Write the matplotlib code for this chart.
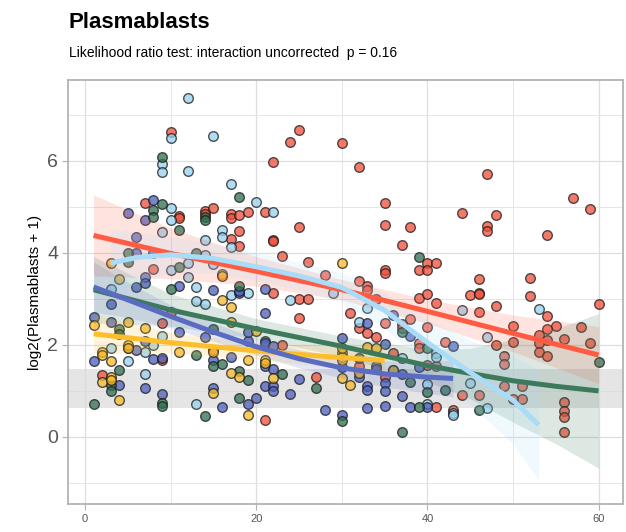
import matplotlib
matplotlib.use("Agg")
import matplotlib.pyplot as plt
import numpy as np
from matplotlib.ticker import MultipleLocator

plt.rcParams['font.family'] = ['Liberation Sans', 'DejaVu Sans']

# ---------------- data ----------------
red_x = [30,32,35,35,38,37,35,35,39,40,40,41,32,33,33,39,40,45,46,46,47,44,48,47,47,54,57,59,46,52,52,
         10,25,24,22,7,11,11,14,14,15,17,17,18,19,21,18,17,18,22,22,25,23,26,8,22,25,26,25,28,23,27,21,15,9,9,2,10,
         31,34,35,38,32,33,34,37,37,40,39,39,42,46,36,40,41,32,35,44,46,41,43,41,
         48,60,54,50,55,54,58,53,53,54,56,59,50,48,53,54,49,49,49,51,50,51,56,56,56,56]
red_y = [6.39,5.87,5.09,4.61,4.57,4.17,3.63,3.56,3.63,3.78,3.63,3.78,3.39,3.28,3.20,3.02,3.11,3.09,3.13,3.10,5.72,4.87,4.83,4.59,4.48,4.39,5.20,4.96,3.43,3.46,3.07,
         6.63,6.67,6.41,5.98,5.09,4.80,4.76,4.91,4.85,4.98,4.85,4.76,4.83,4.89,4.89,4.48,4.30,4.15,4.28,4.25,4.57,3.93,3.80,3.65,3.13,3.00,3.00,2.59,3.52,2.00,1.30,0.37,1.89,2.48,1.67,1.35,2.72,
         2.70,3.00,2.48,2.57,2.37,2.26,2.17,2.46,2.37,2.39,2.04,1.93,2.07,2.72,1.83,1.57,1.54,1.54,1.30,0.91,0.91,0.65,0.59,2.91,
         2.85,2.89,2.63,2.41,2.41,2.35,2.39,2.22,2.04,2.11,2.13,2.04,2.07,2.00,1.85,1.76,1.76,1.59,1.11,1.11,0.83,0.83,0.76,0.57,0.43,0.11]

lblue_x = [12,10,15,9,9,12,10,10,9,14,14,12,17,20,22,16,16,17,10,12,13,3,15,19,17,13,14,9,3,5,7,7,8,13,
           24,29,33,32,44,47,41,41,37,40,40,43,43,45,53,47]
lblue_y = [7.37,6.50,6.55,5.93,5.76,5.78,4.98,4.72,4.46,4.28,3.96,3.78,5.50,5.11,4.89,4.50,4.35,4.13,3.63,3.48,3.26,3.22,3.76,3.13,3.09,2.96,2.89,2.20,1.93,1.65,1.37,1.85,2.00,0.72,
           2.98,3.13,2.80,2.50,2.76,2.17,1.83,1.74,1.72,1.15,0.72,0.52,0.48,1.17,2.78,0.63]

dblue_x = [5,8,7,6,6,8,7,7,6,11,15,18,18,21,3,1,3,7,8,6,1,4,7,9,9,11,14,21,19,19,21,21,22,17,15,15,21,22,21,22,22,24,20,19,16,25,28,
           30,30,36,33,38,35,43,32,34,34,36,37,39,32,33,33,35,35,37,33,35,38,40,30]
dblue_y = [4.87,5.15,4.72,4.35,4.00,4.00,3.48,3.35,3.26,3.28,3.20,3.13,3.18,3.22,2.89,2.61,2.50,2.09,1.70,1.89,1.65,1.13,1.07,1.72,0.93,2.28,2.17,2.70,2.09,2.28,2.09,2.05,1.98,1.74,1.67,1.07,1.54,1.48,1.11,1.11,1.00,0.93,0.85,0.72,0.65,1.26,0.59,
           2.15,0.48,2.65,2.48,2.20,2.02,1.98,1.72,1.54,1.48,1.46,1.37,1.52,1.30,1.11,1.02,1.17,1.00,0.89,0.63,0.67,0.65,0.65,1.52]

green_x = [9,9,8,8,11,18,14,14,13,11,10,18,4,4,5,4,3,3,1,9,9,13,14,15,16,15,18,19,23,27,18,30,37,40,38,40,42,39,46,37,60,39,5,5]
green_y = [6.08,5.07,4.93,4.78,4.50,5.22,4.78,4.72,4.00,3.70,3.22,3.28,2.35,2.24,1.93,1.46,1.13,1.00,0.72,0.74,0.68,1.78,0.46,2.35,1.59,1.54,1.43,1.24,1.37,1.07,0.85,0.35,2.28,1.93,1.20,0.98,1.02,0.65,0.59,0.11,1.63,3.91,4.00,3.80]

yellow_x = [3,4,16,16,16,17,17,1,5,7,2,2,3,4,2,3,3,5,5,11,15,17,18,19,19,21,21,22,20,15,30,30,30,30,31,33,34,32,36,30,30]
yellow_y = [3.78,3.43,3.54,3.50,2.98,2.83,2.50,2.43,2.50,2.37,1.85,1.78,1.65,0.80,1.20,1.30,1.24,2.00,1.93,1.85,0.96,1.39,1.30,1.67,0.48,1.67,1.61,1.28,2.30,1.85,3.78,1.83,1.74,1.28,1.13,1.96,1.93,1.39,1.46,1.93,1.67]

# smooth fits: x grid, fit, half-width of CI
red_fx = [1,10,20,30,40,50,60]
red_fy = [4.38,3.99,3.60,3.20,2.73,2.25,1.78]
red_fw = [0.88,0.55,0.32,0.22,0.26,0.40,0.62]

lblue_fx = [3,6,10,15,20,25,30,35,40,45,50,53]
lblue_fy = [3.78,3.90,3.96,3.88,3.70,3.50,3.25,2.75,2.05,1.40,0.80,0.26]
lblue_fw = [0.75,0.55,0.40,0.32,0.30,0.30,0.32,0.38,0.50,0.70,0.95,1.20]

dblue_fx = [1,5,10,15,20,25,30,35,40,43]
dblue_fy = [3.26,2.98,2.62,2.28,1.96,1.70,1.50,1.37,1.30,1.27]
dblue_fw = [0.55,0.38,0.25,0.20,0.18,0.20,0.22,0.28,0.35,0.40]

green_fx = [1,10,20,30,40,45,50,55,60]
green_fy = [3.20,2.76,2.35,1.97,1.55,1.38,1.22,1.10,1.00]
green_fw = [0.72,0.35,0.22,0.22,0.35,0.55,0.90,1.25,1.68]

yellow_fx = [1,10,20,28,35]
yellow_fy = [2.24,2.05,1.87,1.75,1.66]
yellow_fw = [0.42,0.22,0.18,0.22,0.32]

band_lo, band_hi = 0.63, 1.48

title = "Plasmablasts"
subtitle = "Likelihood ratio test: interaction uncorrected  p = 0.16"
ylabel = "log2(Plasmablasts + 1)"

# ---------------- styling ----------------
pt_fill = {"red": "#F04E3A", "lblue": "#96D2F0", "dblue": "#4A5EBD", "green": "#2E6F4E", "yellow": "#F8B928"}
ln_col = {"red": "#FF5A42", "lblue": "#A8DCF8", "dblue": "#5A6CC2", "green": "#3C7A5B", "yellow": "#FDBE2E"}

fig = plt.figure(figsize=(6.26, 5.32), dpi=100)
ax = fig.add_axes([0.1086, 0.0526, 0.8866, 0.797])

ax.set_xlim(-1.99, 62.85)
ax.set_ylim(-1.46, 7.76)

ax.axhspan(band_lo, band_hi, color="#dadada", alpha=0.7, lw=0, zorder=1)

groups = [("red", red_x, red_y), ("lblue", lblue_x, lblue_y), ("dblue", dblue_x, dblue_y),
          ("green", green_x, green_y), ("yellow", yellow_x, yellow_y)]
for key, xs, ys in groups:
    ax.scatter(xs, ys, s=48, c=pt_fill[key], edgecolors="#1a1a1a", linewidths=1.0,
               alpha=0.75, zorder=3)

fits = [("red", red_fx, red_fy, red_fw), ("green", green_fx, green_fy, green_fw),
        ("yellow", yellow_fx, yellow_fy, yellow_fw), ("dblue", dblue_fx, dblue_fy, dblue_fw),
        ("lblue", lblue_fx, lblue_fy, lblue_fw)]
for key, fx, fy, fw in fits:
    fx = np.array(fx); fy = np.array(fy); fw = np.array(fw)
    ax.fill_between(fx, fy - fw, fy + fw, color=ln_col[key], alpha=0.17, lw=0, zorder=4)
for key, fx, fy, fw in fits:
    ax.plot(fx, fy, color=ln_col[key], lw=3.6, solid_capstyle="butt", solid_joinstyle="round", zorder=5)

# grid / frame
ax.xaxis.set_major_locator(MultipleLocator(20))
ax.xaxis.set_minor_locator(MultipleLocator(10))
ax.yaxis.set_major_locator(MultipleLocator(2))
ax.yaxis.set_minor_locator(MultipleLocator(1))
ax.grid(which="major", color="#dedede", lw=0.9, zorder=0)
ax.grid(which="minor", color="#e6e6e6", lw=0.7, zorder=0)
ax.set_axisbelow(True)
for sp in ax.spines.values():
    sp.set_color("#b3b3b3")
    sp.set_linewidth(1.3)
ax.tick_params(which="major", length=4, color="#b3b3b3", width=0.8)
ax.tick_params(which="minor", length=0)
ax.tick_params(axis="x", labelsize=8, labelcolor="#555555", pad=3)
ax.tick_params(axis="y", labelsize=14, labelcolor="#555555", pad=3)

ax.set_ylabel(ylabel, fontsize=11, color="black", labelpad=4)

fig.text(0.1102, 0.948, title, fontsize=16, fontweight="bold", ha="left", va="baseline")
fig.text(0.1102, 0.893, subtitle, fontsize=10, ha="left", va="baseline")

fig.savefig("out.png", dpi=100)
